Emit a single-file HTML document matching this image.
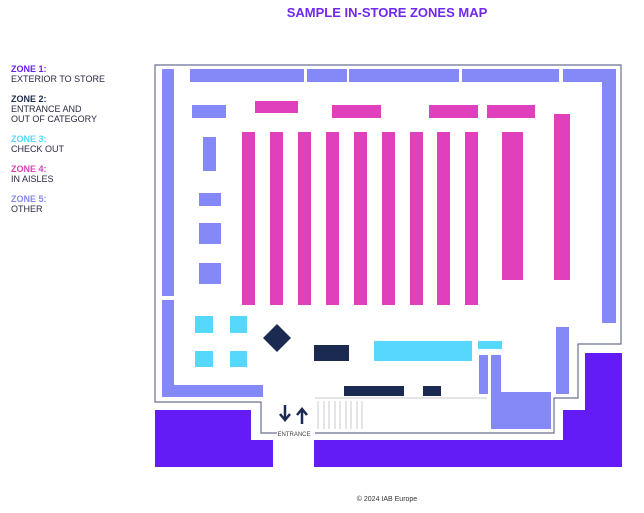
<!DOCTYPE html>
<html><head><style>
body{margin:0;width:644px;height:513px;background:#fff;position:relative;overflow:hidden;font-family:"Liberation Sans",sans-serif}
.t{position:absolute;left:0;width:644px;text-align:center}
.lg{position:absolute;left:11px;top:64px;font-size:9px;line-height:10px;color:#2a2a44}
.lg b{display:block}
.lg div{margin-bottom:10px}
</style></head><body>
<div class="t" style="top:5px;left:65px;font-size:13px;font-weight:bold;color:#7028f0">SAMPLE IN-STORE ZONES MAP</div>
<div class="lg">
<div><b style="color:#6a1ef2">ZONE 1:</b>EXTERIOR TO STORE</div>
<div><b style="color:#1b2a50">ZONE 2:</b>ENTRANCE AND<br>OUT OF CATEGORY</div>
<div><b style="color:#55d8fb">ZONE 3:</b>CHECK OUT</div>
<div><b style="color:#e040bb">ZONE 4:</b>IN AISLES</div>
<div><b style="color:#8489f7">ZONE 5:</b>OTHER</div>
</div>
<svg width="644" height="513" style="position:absolute;left:0;top:0">
<polyline points="277,433 261,433 261,402 155,402 155,65 621,65 621,344 578,344 578,398 554,398 554,433 315,433" fill="none" stroke="#6b7090" stroke-width="1.2"/>
<g fill="#631cf5">
<rect x="155" y="410" width="96" height="57"/><rect x="155" y="440" width="118" height="27"/>
<rect x="314" y="440" width="308" height="27"/><rect x="563" y="410" width="59" height="57"/><rect x="585" y="353" width="37" height="114"/>
</g>
<g fill="#8489f7">
<rect x="162" y="69" width="12" height="227"/><rect x="162" y="300" width="12" height="97"/><rect x="162" y="385" width="101" height="12"/>
<rect x="190" y="69" width="114" height="13"/><rect x="307" y="69" width="40" height="13"/><rect x="349" y="69" width="110" height="13"/><rect x="462" y="69" width="97" height="13"/><rect x="563" y="69" width="53" height="13"/>
<rect x="602" y="69" width="14" height="254"/>
<rect x="192" y="105" width="34" height="13"/><rect x="203" y="137" width="13" height="34"/>
<rect x="199" y="193" width="22" height="13"/><rect x="199" y="223" width="22" height="21"/><rect x="199" y="263" width="22" height="21"/>
<rect x="556" y="327" width="13" height="67"/><rect x="479" y="355" width="9" height="39"/><rect x="491" y="355" width="10" height="74"/><rect x="491" y="392" width="60" height="37"/>
</g>
<g fill="#e040bb">
<rect x="255" y="101" width="43" height="12"/><rect x="332" y="105" width="49" height="13"/><rect x="429" y="105" width="49" height="13"/><rect x="487" y="105" width="48" height="13"/>
<rect x="242" y="132" width="13" height="173"/><rect x="270" y="132" width="13" height="173"/><rect x="298" y="132" width="13" height="173"/><rect x="326" y="132" width="13" height="173"/><rect x="354" y="132" width="13" height="173"/><rect x="382" y="132" width="13" height="173"/><rect x="410" y="132" width="13" height="173"/><rect x="437" y="132" width="13" height="173"/><rect x="465" y="132" width="13" height="173"/>
<rect x="502" y="132" width="21" height="148"/><rect x="554" y="114" width="16" height="166"/>
</g>
<g fill="#55d8fb">
<rect x="195" y="316" width="18" height="17"/><rect x="230" y="316" width="17" height="17"/><rect x="195" y="351" width="18" height="16"/><rect x="230" y="351" width="17" height="16"/>
<rect x="374" y="341" width="98" height="20"/><rect x="478" y="341" width="24" height="8"/>
</g>
<g fill="#1b2a50">
<polygon points="277,324 291,338 277,352 263,338"/>
<rect x="314" y="345" width="35" height="16"/><rect x="344" y="386" width="60" height="10"/><rect x="423" y="386" width="18" height="10"/>
</g>
<line x1="315" y1="398" x2="487" y2="398" stroke="#c8cbd2" stroke-width="1"/>
<g stroke="#c8cbd2" stroke-width="1">
<line x1="318" y1="401" x2="318" y2="429"/><line x1="324" y1="401" x2="324" y2="429"/><line x1="329" y1="401" x2="329" y2="429"/><line x1="335" y1="401" x2="335" y2="429"/><line x1="340" y1="401" x2="340" y2="429"/><line x1="346" y1="401" x2="346" y2="429"/><line x1="351" y1="401" x2="351" y2="429"/><line x1="357" y1="401" x2="357" y2="429"/><line x1="362" y1="401" x2="362" y2="429"/>
</g>
<g stroke="#1b2a50" stroke-width="2.5" fill="none">
<line x1="285" y1="405" x2="285" y2="420"/><polyline points="280,414 285,420 290,414"/>
<line x1="302" y1="409" x2="302" y2="424"/><polyline points="297,415 302,409 307,415"/>
</g>
<text x="294" y="436" font-size="6" text-anchor="middle" fill="#444" font-family="Liberation Sans">ENTRANCE</text>
</svg>
<div class="t" style="top:496px;left:65px;font-size:7px;color:#333">© 2024 IAB Europe</div>
</body></html>
